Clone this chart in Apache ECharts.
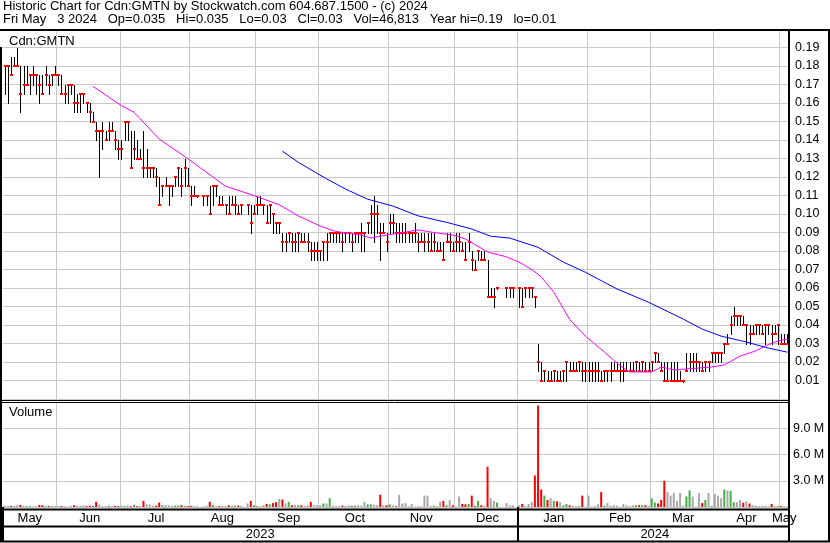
<!DOCTYPE html>
<html><head><meta charset="utf-8">
<script src="https://cdn.jsdelivr.net/npm/echarts@6/dist/echarts.min.js"></script>
<style>html,body{margin:0;padding:0;background:#fff}#c{width:830px;height:543px}</style>
</head><body><div id="c"></div>
<script>
// ---------- data ----------
const monthNames = ['May','Jun','Jul','Aug','Sep','Oct','Nov','Dec','Jan','Feb','Mar','Apr','May'];
const monthYears = [2023,2023,2023,2023,2023,2023,2023,2023,2024,2024,2024,2024,2024];
const monthDays  = [17,20,22,21,20,22,21,20,22,20,20,21,3];

const high = [
.18,.18,.185,.185,.19,.18,.18,.18,.175,.18,.175,.175,.175,.18,.175,.175,.18,
.175,.175,.17,.17,.17,.17,.165,.165,.165,.16,.16,.155,.15,.145,.15,.145,.15,.15,.145,.14,
.14,.15,.15,.145,.145,.14,.135,.145,.135,.125,.125,.125,.12,.115,.12,.115,.115,.12,.125,.125,.13,.125,
.115,.115,.11,null,.11,.11,.115,.115,.115,.11,.11,.105,.11,.11,.11,.105,.105,null,.105,.105,.105,
.11,.11,.105,.105,.105,.10,.095,.095,.09,.09,.09,.09,.09,.09,.09,.09,.09,.085,.085,.085,
.08,.085,.09,.09,.09,.09,.09,.09,.09,.09,.09,.09,.09,.095,.09,.095,.105,.11,.105,.095,.095,.09,
.10,.10,.095,.095,.095,.095,.09,.09,.095,.09,.09,.09,.09,.09,.09,.085,.085,.085,.09,.09,.085,
.09,.09,.085,.085,.09,.08,.075,.08,.08,.08,.075,.06,.06,.06,null,null,.06,.06,.06,null,
.06,.06,.06,.06,.06,.055,.03,.02,.015,.015,.015,.015,.015,.015,.015,.02,.02,.02,.02,.02,.02,.02,
.02,.02,.02,.02,.015,.015,.015,.02,.02,.02,.02,.02,.02,.02,.02,.02,.02,.02,.02,.02,
.02,.025,.025,.02,.02,.02,.02,.02,.02,.015,.01,.025,.025,.025,.025,.02,.02,.02,.02,.025,
.025,.025,.025,.03,.035,.045,.05,.045,.045,.045,.04,.04,.04,.04,.04,.04,.04,.04,.04,.04,.04,
.035,.035,.035];
const low = [
.165,.16,.175,.18,.18,.155,.165,.17,.165,.17,.165,.16,.165,.17,.165,.17,.175,
.17,.165,.16,.16,.165,.155,.155,.155,.16,.155,.15,.15,.14,.12,.135,.14,.14,.145,.135,.13,
.13,.14,.14,.125,.13,.13,.13,.12,.12,.12,.12,.115,.105,.11,.115,.105,.11,.115,.115,.11,.115,.115,
.105,.11,.11,null,.105,.105,.10,.105,.11,.105,.105,.10,.10,.105,.10,.10,.10,null,.10,.09,.10,
.10,.105,.10,.095,.095,.09,.09,.09,.08,.08,.085,.08,.08,.08,.085,.085,.08,.075,.075,.075,
.075,.075,.075,.085,.085,.085,.085,.08,.085,.085,.08,.085,.085,.08,.08,.09,.09,.085,.09,.075,.09,.08,
.09,.09,.085,.085,.085,.085,.085,.085,.085,.08,.085,.08,.08,.08,.08,.08,.08,.075,.085,.08,.08,
.08,.08,.08,.075,.08,.07,.07,.075,.075,.075,.055,.055,.05,.06,null,null,.055,.055,.055,null,
.05,.05,.055,.055,.055,.05,.015,.01,.01,.01,.01,.01,.01,.01,.01,.01,.015,.015,.015,.015,.01,.01,
.01,.01,.01,.01,.01,.01,.01,.01,.015,.015,.01,.01,.015,.015,.015,.015,.015,.015,.015,.015,
.015,.02,.02,.015,.01,.01,.01,.01,.01,.01,.01,.015,.015,.015,.015,.015,.015,.015,.015,.02,
.02,.02,.02,.025,.03,.035,.04,.04,.04,.04,.03,.03,.035,.035,.035,.035,.03,.035,.03,.035,.03,
.03,.03,.03];
const close = [
.18,.18,.175,.18,.18,.165,.17,.17,.175,.175,.175,.17,.165,.175,.17,.175,.175,
.175,.165,.165,.17,.17,.16,.16,.165,.165,.16,.155,.15,.145,.145,.145,.14,.145,.145,.14,.135,
.135,.15,.15,.125,.135,.13,.13,.125,.125,.125,.125,.12,.105,.115,.115,.115,.115,.12,.125,.115,.125,.115,
.11,.11,.11,null,.11,.11,.10,.115,.115,.105,.105,.105,.10,.105,.105,.10,.105,null,.105,.095,.10,
.105,.105,.105,.095,.105,.10,.095,.095,.085,.085,.09,.085,.085,.09,.085,.085,.085,.08,.08,.08,
.08,.085,.085,.09,.09,.09,.09,.085,.09,.09,.085,.09,.09,.09,.09,.095,.10,.10,.10,.09,.09,.085,
.095,.095,.09,.09,.09,.09,.09,.09,.09,.085,.085,.085,.085,.08,.085,.08,.08,.075,.085,.085,.08,
.085,.085,.08,.075,.085,.075,.07,.08,.075,.075,.055,.055,.055,.06,null,null,.06,.06,.06,null,
.06,.05,.06,.06,.06,.055,.02,.01,.015,.01,.01,.015,.01,.01,.015,.02,.015,.015,.015,.02,.015,.015,
.015,.015,.015,.015,.01,.015,.015,.015,.015,.015,.015,.015,.015,.015,.015,.02,.015,.02,.015,.015,
.02,.025,.02,.015,.01,.01,.01,.01,.01,.01,.01,.015,.02,.02,.02,.02,.015,.02,.02,.025,
.025,.025,.025,.03,.03,.04,.045,.045,.045,.04,.04,.035,.035,.04,.04,.035,.04,.04,.035,.035,.04,
.03,.03,.03];
// volume in millions of shares
const volume = [
0.15,0.1,0.12,0.08,0.2,0.23,0.1,0.15,0.12,0.08,0.1,0.23,0.2,0.1,0.12,0.08,0.1,
0.1,0.12,0.1,0.05,0.15,0.2,0.15,0.1,0.2,0.1,0.15,0.1,0.6,0.3,0.1,0.05,0.15,0.1,0.12,0.1,
0.15,0.12,0.2,0.1,0.25,0.1,0.15,0.7,0.3,0.3,0.15,0.15,0.5,0.2,0.2,0.2,0.15,0.15,0.15,0.2,0.15,0.1,
0.1,0.1,0.12,0,0.1,0.15,0.6,0.25,0.1,0.1,0.15,0.1,0.2,0.1,0.2,0.15,0.1,0,0.4,0.7,0.2,
0.1,0.1,0.2,0.35,0.3,0.45,0.55,0.9,0.85,0.4,0.6,0.2,0.25,0.2,0.2,0.15,0.2,0.6,0.2,0.2,
0.2,0.4,0.4,1.0,0.15,0.1,0.1,0.15,0.1,0.2,0.1,0.15,0.2,0.15,0.6,0.3,0.3,0.25,0.2,1.4,0.2,0.2,
0.3,0.2,0.1,1.4,0.4,0.45,0.1,0.35,0.05,0.05,0.1,1.3,1.3,0.05,0.15,0.05,0.6,0.7,0.2,0.8,0.2,
0.05,1.2,0.35,0.3,0.35,1.3,0.1,0.7,0.2,0.15,4.6,1.0,0.7,0.5,0,0,0.45,0.2,0.2,0,
0.2,0.35,0.1,0.35,0.6,3.6,11.6,2.0,1.3,0.8,1.0,0.7,0.65,0.55,0.2,0.35,0.2,0.1,0.1,0.1,1.3,0.05,
1.3,0.05,0.1,0.3,1.7,0.15,0.45,0.15,0.2,0.15,0.05,0.35,0.2,0.1,0.2,0.2,0.2,0.2,0.2,0.15,
1.0,0.5,0.4,0.8,3.0,1.7,1.3,1.6,0.7,1.6,0.15,1.2,1.9,1.2,0.05,1.6,0.45,0.8,1.6,0.1,
1.5,1.3,1.0,2.0,1.9,1.85,0.55,0.55,0.8,0.5,0.65,0.4,0.2,0.1,0.1,0.05,0.1,0.1,0.35,0.1,0.1,
0.1,0.1,0.047];
// moving averages (trading-day index, value)
const pinkDays = [28,37,41,49,58,62,70,79,87,93,100,104,108,113,116,119,125,131,136,142,146,153,159,163,167,170,174,179,184,190,195,198,205,208,212,224,228,233,238,241,245,248];
const pinkVals = [.169,.1586,.155,.1405,.130,.125,.115,.11,.105,.099,.0935,.091,.0897,.0886,.087,.088,.0897,.0914,.090,.0886,.0865,.0795,.0768,.074,.070,.066,.0577,.043,.034,.0254,.018,.0146,.0146,.0173,.0157,.0173,.0184,.0232,.026,.0287,.0314,.0324];
const blueDays = [88,93,102,108,115,123,131,140,148,154,160,169,177,184,194,204,215,221,227,235,242,248];
const blueVals = [.134,.128,.119,.1135,.108,.1043,.099,.0955,.0919,.088,.087,.082,.074,.0685,.0595,.0523,.0432,.0378,.034,.0308,.0275,.0253];

const header1 = 'Historic Chart for Cdn:GMTN by Stockwatch.com 604.687.1500 - (c) 2024';
const header2 = 'Fri May   3 2024   Op=0.035   Hi=0.035   Lo=0.03   Cl=0.03   Vol=46,813   Year hi=0.19   lo=0.01';

// ---------- build ----------
const categories = [], monthStart = new Set(), monthMid = {}, yearOf = [];
let k = 0;
monthNames.forEach((m, mi) => {
  monthStart.add(k);
  monthMid[k + Math.floor(monthDays[mi] / 2)] = m;
  for (let d = 0; d < monthDays[mi]; d++) { categories.push(m + ' ' + monthYears[mi] + ' #' + (d + 1)); yearOf.push(monthYears[mi]); }
  k += monthDays[mi];
});
const N = categories.length;
const yearStartIdx = yearOf.indexOf(2024);
const yearMid = {};
yearMid[Math.floor(yearStartIdx / 2)] = '2023';
yearMid[yearStartIdx + Math.floor((N - yearStartIdx) / 2)] = '2024';

const ohlc = [];
for (let i = 0; i < N; i++) if (close[i] != null) ohlc.push([i, high[i], low[i], close[i]]);

let prev = null;
const volData = volume.map((v, i) => {
  let col = '#a8a8a8';
  if (close[i] != null) {
    if (prev != null && close[i] > prev + 1e-9) col = '#44b044';
    else if (prev != null && close[i] < prev - 1e-9) col = '#ff0000';
    prev = close[i];
  }
  return { value: v, itemStyle: { color: col } };
});

function maSeries(days, vals) {
  const arr = new Array(N).fill(null);
  days.forEach((d, j) => { arr[d] = vals[j]; });
  return arr;
}

const FONT = '"Liberation Sans", Arial, sans-serif';
const GRID = '#c8c8c8';

const chart = echarts.init(document.getElementById('c'), null, { renderer: 'canvas' });
chart.setOption({
  animation: false,
  backgroundColor: '#fff',
  textStyle: { fontFamily: FONT },
  grid: [
    { left: 3, right: 41, top: 29, height: 370 },
    { left: 3, right: 41, top: 402, height: 105 }
  ],
  xAxis: [
    { type: 'category', gridIndex: 0, data: categories, boundaryGap: true,
      axisLine: { show: false }, axisTick: { show: false }, axisLabel: { show: false },
      splitLine: { show: true, interval: (i) => monthStart.has(i) && i > 0, lineStyle: { color: GRID, width: 1 } } },
    { type: 'category', gridIndex: 1, data: categories, boundaryGap: true,
      axisLine: { show: false },
      axisTick: { show: true, interval: (i) => i === 0 || i === yearStartIdx, length: 34, lineStyle: { color: '#000', width: 2 } },
      axisLabel: { show: true, interval: (i) => monthMid[i] !== undefined, formatter: (v, i) => monthMid[i] || '',
        margin: 5, fontSize: 13, color: '#000', fontFamily: FONT },
      splitLine: { show: true, interval: (i) => monthStart.has(i) && i > 0, lineStyle: { color: GRID, width: 1 } } },
    { type: 'category', gridIndex: 1, data: categories, boundaryGap: true, position: 'bottom', offset: 18,
      axisLine: { show: false }, axisTick: { show: false }, splitLine: { show: false },
      axisLabel: { show: true, interval: (i) => yearMid[i] !== undefined, formatter: (v, i) => yearMid[i] || '',
        margin: 3, fontSize: 13, color: '#000', fontFamily: FONT } }
  ],
  yAxis: [
    { type: 'value', gridIndex: 0, position: 'right', min: 0, max: 0.2, interval: 0.01,
      axisLine: { show: false }, axisTick: { show: false },
      axisLabel: { margin: 6, fontSize: 12.5, color: '#000', fontFamily: FONT,
        formatter: (v) => (v > 0.005 && v < 0.195) ? v.toFixed(2) : '' },
      splitLine: { show: true, lineStyle: { color: GRID, width: 1 } } },
    { type: 'value', gridIndex: 1, position: 'right', min: 0, max: 12, interval: 3,
      axisLine: { show: false }, axisTick: { show: false },
      axisLabel: { margin: 4, fontSize: 12.5, color: '#000', fontFamily: FONT,
        formatter: (v) => (v > 0 && v < 12) ? v.toFixed(1) + ' M' : '' },
      splitLine: { show: true, lineStyle: { color: GRID, width: 1 } } }
  ],
  series: [
    { type: 'custom', xAxisIndex: 0, yAxisIndex: 0, data: ohlc, encode: { x: 0, y: [1, 2, 3] },
      renderItem: (params, api) => {
        const i = api.value(0);
        const pH = api.coord([i, api.value(1)]);
        const pL = api.coord([i, api.value(2)]);
        const pC = api.coord([i, api.value(3)]);
        const x = Math.round(pH[0]) + 0.5;
        const yT = Math.round(pH[1]), yB = Math.max(Math.round(pL[1]), yT + 1);
        return { type: 'group', children: [
          { type: 'line', shape: { x1: x, y1: yT, x2: x, y2: yB + 1 }, style: { stroke: '#000', lineWidth: 1 } },
          { type: 'rect', shape: { x: Math.round(pC[0]) - 1, y: Math.round(pC[1]) - 1, width: 3, height: 2 }, style: { fill: '#ff0000' } }
        ] };
      } },
    { type: 'line', xAxisIndex: 0, yAxisIndex: 0, data: maSeries(pinkDays, pinkVals), connectNulls: true,
      symbol: 'none', lineStyle: { color: '#ff00ff', width: 1 }, z: 3 },
    { type: 'line', xAxisIndex: 0, yAxisIndex: 0, data: maSeries(blueDays, blueVals), connectNulls: true,
      symbol: 'none', lineStyle: { color: '#0000ff', width: 1 }, z: 3 },
    { type: 'bar', xAxisIndex: 1, yAxisIndex: 1, data: volData, barWidth: 2 }
  ],
  graphic: [
    { type: 'text', left: 3, top: 0, style: { text: header1, font: '13px ' + FONT, fill: '#000' } },
    { type: 'text', left: 3, top: 13, style: { text: header2, font: '13px ' + FONT, fill: '#000' } },
    { type: 'text', left: 9, top: 35, style: { text: 'Cdn:GMTN', font: '13px ' + FONT, fill: '#000' } },
    { type: 'text', left: 9, top: 406, style: { text: 'Volume', font: '13px ' + FONT, fill: '#000' } },
    { type: 'line', shape: { x1: 0, y1: 30, x2: 830, y2: 30 }, style: { stroke: '#000', lineWidth: 2 }, z: 100 },
    { type: 'line', shape: { x1: 1, y1: 47, x2: 1, y2: 542 }, style: { stroke: '#000', lineWidth: 2 }, z: 100 },
    { type: 'line', shape: { x1: 789, y1: 30, x2: 789, y2: 542 }, style: { stroke: '#000', lineWidth: 2 }, z: 100 },
    { type: 'line', shape: { x1: 829, y1: 30, x2: 829, y2: 542 }, style: { stroke: '#000', lineWidth: 2 }, z: 100 },
    { type: 'line', shape: { x1: 0, y1: 400.5, x2: 789, y2: 400.5 }, style: { stroke: '#000', lineWidth: 1 }, z: 100 },
    { type: 'line', shape: { x1: 0, y1: 402.5, x2: 789, y2: 402.5 }, style: { stroke: '#000', lineWidth: 1 }, z: 100 },
    { type: 'line', shape: { x1: 0, y1: 509.5, x2: 789, y2: 509.5 }, style: { stroke: '#000', lineWidth: 2 }, z: 100 },
    { type: 'line', shape: { x1: 0, y1: 526.5, x2: 789, y2: 526.5 }, style: { stroke: '#000', lineWidth: 2 }, z: 100 },
    { type: 'line', shape: { x1: 0, y1: 541.5, x2: 830, y2: 541.5 }, style: { stroke: '#000', lineWidth: 2 }, z: 100 }
  ]
});
</script>
</body></html>
